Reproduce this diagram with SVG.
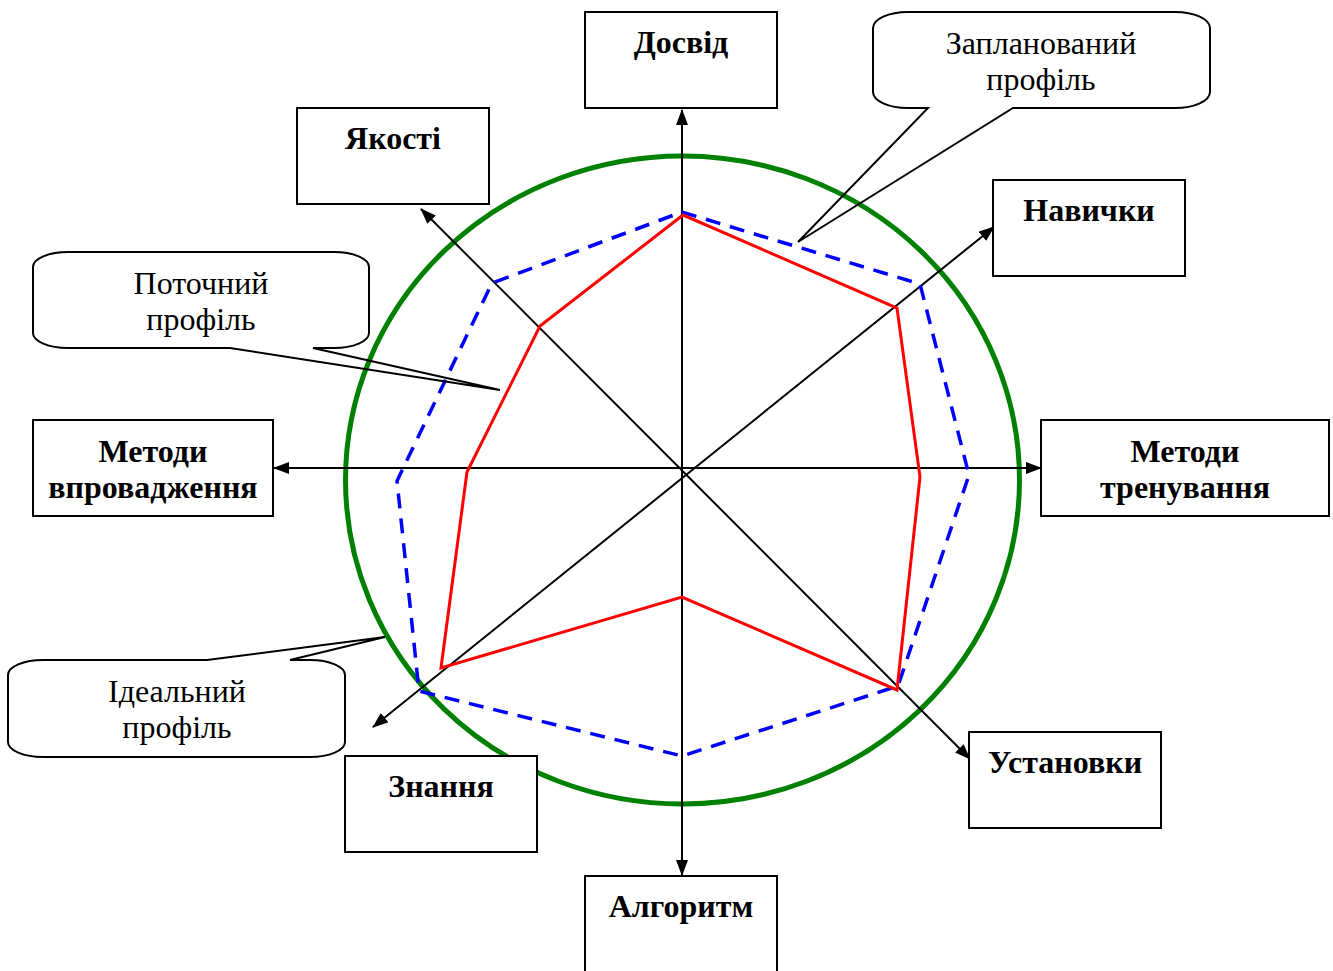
<svg xmlns="http://www.w3.org/2000/svg" width="1333" height="971" viewBox="0 0 1333 971">
<defs>
<marker id="arr" viewBox="0 0 16 12" refX="15" refY="6" markerWidth="16" markerHeight="12" markerUnits="userSpaceOnUse" orient="auto-start-reverse">
<path d="M0 0 L16 6 L0 12 Z" fill="#000"/>
</marker>
<style>
.box{fill:#fff;stroke:#000;stroke-width:2}
.bt{font-family:"Liberation Serif","Times New Roman",serif;font-weight:bold;font-size:32px;text-anchor:middle;fill:#000}
.ct{font-family:"Liberation Serif","Times New Roman",serif;font-size:32px;text-anchor:middle;fill:#000}
.call{fill:none;stroke:#000;stroke-width:2;stroke-linejoin:miter}
.axis{stroke:#000;stroke-width:2;fill:none}
</style>
</defs>
<rect width="1333" height="971" fill="#fff"/>
<ellipse id="ideal" cx="682.5" cy="480" rx="337" ry="324" fill="none" stroke="#008000" stroke-width="5"/>
<g id="connectors">
<line class="axis" x1="682" y1="110" x2="682" y2="875" marker-start="url(#arr)" marker-end="url(#arr)"/>
<line class="axis" x1="274" y1="468" x2="1041" y2="468" marker-start="url(#arr)" marker-end="url(#arr)"/>
<line class="axis" x1="421" y1="209" x2="970" y2="759" marker-start="url(#arr)" marker-end="url(#arr)"/>
<line class="axis" x1="373" y1="727" x2="994" y2="227" marker-start="url(#arr)" marker-end="url(#arr)"/>
</g>
<polygon id="planned" points="682,212 920,284 969,475 898,686 682,756 419,691 397,481 492,283" fill="none" stroke="#0000ff" stroke-width="3.5" stroke-dasharray="15,10"/>
<polygon id="current" points="683,215 897,308 920,477 897,690 682,597 441,668 467,472 540,326" fill="none" stroke="#ff0000" stroke-width="3"/>
<g id="n-dosvid"><rect class="box" x="585" y="12" width="192" height="96"/><text class="bt" x="681" y="53">Досвід</text></g>
<g id="n-yakosti"><rect class="box" x="297" y="108" width="192" height="96"/><text class="bt" x="393" y="149">Якості</text></g>
<g id="n-navychky"><rect class="box" x="993" y="180" width="192" height="96"/><text class="bt" x="1089" y="221">Навички</text></g>
<g id="n-trenuvannya"><rect class="box" x="1041" y="420" width="288" height="96"/><text class="bt" x="1185" y="462">Методи</text><text class="bt" x="1185" y="498">тренування</text></g>
<g id="n-vprovadzhennya"><rect class="box" x="33" y="420" width="240" height="96"/><text class="bt" x="153" y="462">Методи</text><text class="bt" x="153" y="498">впровадження</text></g>
<g id="n-ustanovky"><rect class="box" x="969" y="732" width="192" height="96"/><text class="bt" x="1065" y="773">Установки</text></g>
<g id="n-znannya"><rect class="box" x="345" y="756" width="192" height="96"/><text class="bt" x="441" y="797">Знання</text></g>
<g id="n-alhorytm"><rect class="box" x="585" y="876" width="192" height="100"/><text class="bt" x="681" y="917">Алгоритм</text></g>
<g id="c-planned"><path class="call" d="M908 12 L1175 12 A35 16 0 0 1 1210 28 L1210 92 A35 16 0 0 1 1175 108 L1013 108 L798 242 L928 108 L908 108 A35 16 0 0 1 873 92 L873 28 A35 16 0 0 1 908 12 Z"/><text class="ct" x="1041" y="54">Запланований</text><text class="ct" x="1041" y="90">профіль</text></g>
<g id="c-current"><path class="call" d="M68 252 L334 252 A35 15 0 0 1 369 267 L369 333 A35 15 0 0 1 334 348 L313 348 L500 390 L230 348 L68 348 A35 15 0 0 1 33 333 L33 267 A35 15 0 0 1 68 252 Z"/><text class="ct" x="201" y="294">Поточний</text><text class="ct" x="201" y="330">профіль</text></g>
<g id="c-ideal"><path class="call" d="M43 660 L207 660 L385 637 L290 660 L310 660 A35 15 0 0 1 345 675 L345 742 A35 15 0 0 1 310 757 L43 757 A35 15 0 0 1 8 742 L8 675 A35 15 0 0 1 43 660 Z"/><text class="ct" x="177" y="702">Ідеальний</text><text class="ct" x="177" y="738">профіль</text></g>
</svg>
